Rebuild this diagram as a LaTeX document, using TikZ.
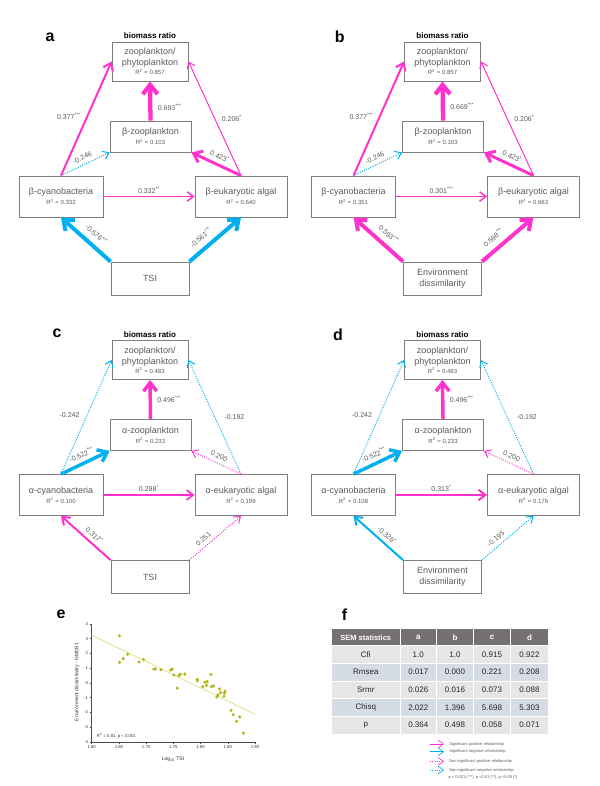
\documentclass[tikz,border=0pt]{standalone}
\usepackage{fontspec}
\setmainfont{Liberation Sans}
\usetikzlibrary{arrows.meta,positioning}
\definecolor{pinkc}{RGB}{255,51,204}
\definecolor{bluec}{RGB}{0,176,240}
\definecolor{txtc}{RGB}{89,89,89}
\definecolor{edgec}{RGB}{127,127,127}
\definecolor{headc}{RGB}{118,113,113}
\definecolor{rowa}{RGB}{231,230,230}
\definecolor{rowb}{RGB}{214,220,229}
\definecolor{dotc}{RGB}{181,181,24}
\definecolor{fitc}{RGB}{222,222,150}
\newcommand\rsq[1]{{\fontsize{4.5}{5}\selectfont R\textsuperscript{2} = #1}}
\newcommand\st[1]{\textsuperscript{#1}}
\tikzset{
  box/.style = {draw=edgec, line width=0.6pt, align=center, inner sep=0pt,
    text=txtc, font=\fontsize{6.75}{8.25}\selectfont},
  topbox/.style = {box, minimum width=57pt, minimum height=29.25pt},
  midbox/.style = {box, minimum width=60.75pt, minimum height=23.25pt},
  leftbox/.style = {box, minimum width=63pt, minimum height=30.75pt},
  rightbox/.style = {box, minimum width=69pt, minimum height=30.75pt},
  drvbox/.style = {box, minimum width=58.5pt, minimum height=24.75pt},
  title/.style = {font=\bfseries\fontsize{6}{7}\selectfont, inner sep=0pt},
  letter/.style = {font=\bfseries\fontsize{12}{14}\selectfont, inner sep=0pt},
  lab/.style = {font=\fontsize{5.25}{6}\selectfont, text=txtc, inner sep=1pt},
  tip/.style = {-{Straight Barb[length=3.5pt 1.1, width=5pt 1.9]}},
  sigpos/.style = {draw=pinkc, line width=#1, tip},
  sigpos/.default = 0.75pt,
  signeg/.style = {draw=bluec, line width=#1, tip},
  signeg/.default = 0.75pt,
  nspos/.style = {draw=pinkc, line width=0.75pt, densely dotted, tip},
  nsneg/.style = {draw=bluec, line width=0.75pt, densely dotted, tip},
  cell/.style = {font=\fontsize{6}{7}\selectfont, text=black!85, inner sep=0pt},
  tick/.style = {font=\fontsize{3.2}{3.7}\selectfont, text=black!80, inner sep=0.5pt},
  leg/.style = {font=\fontsize{3}{3.5}\selectfont, text=txtc, inner sep=0pt, anchor=west}
}

\begin{document}
\begin{tikzpicture}[x=0.75pt, y=-0.75pt]
  \useasboundingbox (0,0) rectangle (600,786);

  % a
  \begin{scope}
    \node[letter] (alet) at (50,37.5) {a};
    \node[topbox] (atop) at (150,61.5) {zooplankton/\\phytoplankton\\[-1.5pt]\rsq{0.857}};
    \node[title, above=2pt of atop] (atitle) {biomass ratio};
    \node[midbox] (amid) at (150.5,136.5) {β-zooplankton\\[-0.75pt]\rsq{0.103}};
    \node[leftbox] (aleft) at (61,196.5) {β-cyanobacteria\\[-0.75pt]\rsq{0.332}};
    \node[rightbox] (aright) at (241,196.5) {β-eukaryotic algal\\[-0.75pt]\rsq{0.640}};
    \node[drvbox] (atsi) at (150,278.5) {TSI};
    \draw[sigpos=1.5pt] (aleft.north) -- node[lab, pos=0.52, left=3pt] {0.377\st{***}} (atop.west);
    \draw[nsneg] (aleft.north) -- node[lab, sloped, above=2pt] {-0.246} (amid.south west);
    \draw[sigpos] (aright.north) -- node[lab, pos=0.5, right=4pt] {0.206\st{*}} (atop.east);
    \draw[sigpos=2.25pt] (aright.north) -- node[lab, sloped, above=2pt] {0.423\st{*}} (amid.south east);
    \draw[sigpos=3.2pt] (amid.north) -- node[lab, pos=0.33, right=3pt] {0.693\st{***}} (atop.south);
    \draw[sigpos=1.1pt] (aleft.east) -- node[lab, above=1pt] {0.332\st{**}} (aright.west);
    \draw[signeg=3pt] (atsi.north west) -- node[lab, sloped, above=3.5pt, pos=0.43] {-0.576\st{***}} (aleft.south);
    \draw[signeg=3pt] (atsi.north east) -- node[lab, sloped, above=3.5pt, pos=0.36] {-0.561\st{***}} (aright.south);
  \end{scope}

  % b
  \begin{scope}[shift={(292.5,0)}]
    \node[letter] (blet) at (47.2,36.7) {b};
    \node[topbox] (btop) at (150,61.5) {zooplankton/\\phytoplankton\\[-1.5pt]\rsq{0.857}};
    \node[title, above=2pt of btop] (btitle) {biomass ratio};
    \node[midbox] (bmid) at (150.5,136.5) {β-zooplankton\\[-0.75pt]\rsq{0.103}};
    \node[leftbox] (bleft) at (61,196.5) {β-cyanobacteria\\[-0.75pt]\rsq{0.351}};
    \node[rightbox] (bright) at (241,196.5) {β-eukaryotic algal\\[-0.75pt]\rsq{0.663}};
    \node[drvbox] (benv) at (150,278.5) {Environment\\dissimilarity};
    \draw[sigpos=1.5pt] (bleft.north) -- node[lab, pos=0.52, left=3pt] {0.377\st{***}} (btop.west);
    \draw[nsneg] (bleft.north) -- node[lab, sloped, above=2pt] {-0.246} (bmid.south west);
    \draw[sigpos] (bright.north) -- node[lab, pos=0.5, right=4pt] {0.206\st{*}} (btop.east);
    \draw[sigpos=2.25pt] (bright.north) -- node[lab, sloped, above=2pt] {0.423\st{*}} (bmid.south east);
    \draw[sigpos=3.2pt] (bmid.north) -- node[lab, pos=0.37, right=3pt] {0.669\st{***}} (btop.south);
    \draw[sigpos=1.1pt] (bleft.east) -- node[lab, above=1pt] {0.301\st{***}} (bright.west);
    \draw[sigpos=3pt] (benv.north west) -- node[lab, sloped, above=3.5pt, pos=0.43] {0.593\st{***}} (bleft.south);
    \draw[sigpos=3pt] (benv.north east) -- node[lab, sloped, above=3.5pt, pos=0.36] {0.598\st{***}} (bright.south);
  \end{scope}

  % c
  \begin{scope}[shift={(0,298.5)}]
    \node[letter] (clet) at (57,35.2) {c};
    \node[topbox] (ctop) at (150,61.5) {zooplankton/\\phytoplankton\\[-1.5pt]\rsq{0.483}};
    \node[title, above=2pt of ctop] (ctitle) {biomass ratio};
    \node[midbox] (cmid) at (150.5,136.5) {α-zooplankton\\[-0.75pt]\rsq{0.233}};
    \node[leftbox] (cleft) at (61,196.5) {α-cyanobacteria\\[-0.75pt]\rsq{0.100}};
    \node[rightbox] (cright) at (241,196.5) {α-eukaryotic algal\\[-0.75pt]\rsq{0.199}};
    \node[drvbox] (ctsi) at (150,278.5) {TSI};
    \draw[nsneg] (cleft.north) -- node[lab, pos=0.52, left=4.5pt] {-0.242} (ctop.west);
    \draw[signeg=2.6pt] (cleft.north) -- node[lab, sloped, above=2pt] {-0.522\st{***}} (cmid.south west);
    \draw[nsneg] (cright.north) -- node[lab, pos=0.5, right=6pt] {-0.192} (ctop.east);
    \draw[nspos] (cright.north) -- node[lab, sloped, above=2pt] {0.200} (cmid.south east);
    \draw[sigpos=2.6pt] (cmid.north) -- node[lab, pos=0.5, right=3pt] {0.496\st{***}} (ctop.south);
    \draw[sigpos=1.3pt] (cleft.east) -- node[lab, above=1pt] {0.298\st{*}} (cright.west);
    \draw[sigpos=1.5pt] (ctsi.north west) -- node[lab, sloped, above=2pt, pos=0.43] {0.317\st{*}} (cleft.south);
    \draw[nspos] (ctsi.north east) -- node[lab, sloped, above=2pt, pos=0.36] {0.251} (cright.south);
  \end{scope}

  % d
  \begin{scope}[shift={(292.5,298.5)}]
    \node[letter] (dlet) at (45.5,36.5) {d};
    \node[topbox] (dtop) at (150,61.5) {zooplankton/\\phytoplankton\\[-1.5pt]\rsq{0.483}};
    \node[title, above=2pt of dtop] (dtitle) {biomass ratio};
    \node[midbox] (dmid) at (150.5,136.5) {α-zooplankton\\[-0.75pt]\rsq{0.233}};
    \node[leftbox] (dleft) at (61,196.5) {α-cyanobacteria\\[-0.75pt]\rsq{0.108}};
    \node[rightbox] (dright) at (241,196.5) {α-eukaryotic algal\\[-0.75pt]\rsq{0.176}};
    \node[drvbox] (denv) at (150,278.5) {Environment\\dissimilarity};
    \draw[nsneg] (dleft.north) -- node[lab, pos=0.52, left=4.5pt] {-0.242} (dtop.west);
    \draw[signeg=2.6pt] (dleft.north) -- node[lab, sloped, above=2pt] {-0.522\st{***}} (dmid.south west);
    \draw[nsneg] (dright.north) -- node[lab, pos=0.5, right=6pt] {-0.192} (dtop.east);
    \draw[nspos] (dright.north) -- node[lab, sloped, above=2pt] {0.200} (dmid.south east);
    \draw[sigpos=2.6pt] (dmid.north) -- node[lab, pos=0.5, right=3pt] {0.496\st{***}} (dtop.south);
    \draw[sigpos=1.5pt] (dleft.east) -- node[lab, above=1pt] {0.313\st{*}} (dright.west);
    \draw[signeg=1.5pt] (denv.north west) -- node[lab, sloped, above=2pt, pos=0.43] {-0.329\st{*}} (dleft.south);
    \draw[nsneg] (denv.north east) -- node[lab, sloped, above=2pt, pos=0.36] {-0.195} (dright.south);
  \end{scope}

  % e: scatter plot
  \node[letter] (elet) at (61,614) {e};
  \draw[black!70, line width=0.4pt] (91.7,624) -- (91.7,742) -- (255,742);
  \foreach \v in {-4,...,4} {
    \draw[black!70, line width=0.4pt] (89.7,683-14.75*\v) -- (91.7,683-14.75*\v);
    \node[tick, anchor=east] (ey\v) at (89,683-14.75*\v) {\v};
  }
  \foreach \t [count=\k from 0] in {1.60,1.65,1.70,1.75,1.80,1.85,1.90} {
    \draw[black!70, line width=0.4pt] (91.7+27.22*\k,742) -- (91.7+27.22*\k,744);
    \node[tick, anchor=north] (ex\k) at (91.7+27.22*\k,745) {\t};
  }
  \draw[fitc, line width=0.6pt] (91.7,635.1) -- (255,714.3);
  \foreach \u/\v in {1.651/3.2, 1.651/1.4, 1.658/1.65, 1.666/1.95, 1.687/1.42, 1.695/1.6,
      1.714/0.95, 1.717/0.95, 1.727/0.9, 1.745/0.88, 1.748/0.95, 1.751/0.55, 1.757/-0.35,
      1.760/0.5, 1.763/0.6, 1.771/0.6, 1.794/0.25, 1.794/0.15, 1.804/-0.25, 1.808/0.05,
      1.811/-0.15, 1.812/0.1, 1.819/0.58, 1.820/-0.25, 1.824/-0.2, 1.830/-0.95, 1.832/-0.8,
      1.835/-0.4, 1.837/-0.65, 1.843/-0.9, 1.845/-0.55, 1.844/-0.68, 1.856/-1.85,
      1.860/-2.15, 1.866/-2.6, 1.872/-2.3, 1.879/-3.4}
    \fill[dotc] ({91.7+(\u-1.6)*544.3},{683-14.75*\v}) circle (1.3pt);
  \node[tick, anchor=west] (efit) at (96,736) {R\textsuperscript{2} = 0.81, p < 0.001};
  \node[tick, font=\fontsize{3.8}{4.5}\selectfont, rotate=90] (eylab) at (77,682) {Environment dissimilarity - NMDS1};
  \node[tick, font=\fontsize{3.8}{4.5}\selectfont] (exlab) at (173,759) {Log\textsubscript{10} TSI};

  % f: table
  \node[letter] (flet) at (344.5,615) {f};
  \fill[headc] (331.7,629.3) rectangle (548.3,645.7);
  \fill[rowa] (331.7,645.7) rectangle (548.3,663.3);
  \fill[rowb] (331.7,663.3) rectangle (548.3,681);
  \fill[rowa] (331.7,681) rectangle (548.3,698.7);
  \fill[rowb] (331.7,698.7) rectangle (548.3,716.3);
  \fill[rowa] (331.7,716.3) rectangle (548.3,733.5);
  \foreach \c in {400,436.7,473.3,510.7}
    \draw[white, line width=0.75pt] (\c,629.3) -- (\c,733.5);
  \foreach \r in {645.7,663.3,681,698.7,716.3}
    \draw[white, line width=0.75pt] (331.7,\r) -- (548.3,\r);
  \node[cell, text=white, font=\bfseries\fontsize{5.6}{7}\selectfont] (fh0) at (365.8,637.5) {SEM statistics};
  \foreach \h/\x [count=\i] in {a/418.3, b/455, c/492, d/529.5}
    \node[cell, text=white, font=\bfseries\fontsize{6}{7}\selectfont] (fh\i) at (\x,637.5) {\h};
  \foreach \y/\nm/\va/\vb/\vc/\vd [count=\i] in {654.5/Cfi/1.0/1.0/0.915/0.922,
      672.2/Rmsea/0.017/0.000/0.221/0.208, 689.8/Srmr/0.026/0.016/0.073/0.088,
      707.5/Chisq/2.022/1.396/5.698/5.303, 724.9/p/0.364/0.498/0.058/0.071} {
    \node[cell] (f\i n) at (365.8,\y) {\nm};
    \node[cell] (f\i a) at (418.3,\y) {\va};
    \node[cell] (f\i b) at (455,\y) {\vb};
    \node[cell] (f\i c) at (492,\y) {\vc};
    \node[cell] (f\i d) at (529.5,\y) {\vd};
  }

  % legend
  \node[leg] (leg1) at (449,744) {Significant positive relationship};
  \node[leg] (leg2) at (449,751.7) {Significant negative relationship};
  \node[leg] (leg3) at (449,761.3) {Non-significant positive relationship};
  \node[leg] (leg4) at (449,770) {Non-significant negative relationship};
  \node[leg, anchor=center] (leg5) at (483,777.7) {p < 0.001 (***), p <0.01 (**), p <0.05 (*)};
  \draw[sigpos=0.5pt] ([xshift=-14.25pt]leg1.west) -- ([xshift=-3.75pt]leg1.west);
  \draw[signeg=0.5pt] ([xshift=-14.25pt]leg2.west) -- ([xshift=-3.75pt]leg2.west);
  \draw[nspos, line width=0.5pt] ([xshift=-14.25pt]leg3.west) -- ([xshift=-3.75pt]leg3.west);
  \draw[nsneg, line width=0.5pt] ([xshift=-14.25pt]leg4.west) -- ([xshift=-3.75pt]leg4.west);
\end{tikzpicture}
\end{document}
